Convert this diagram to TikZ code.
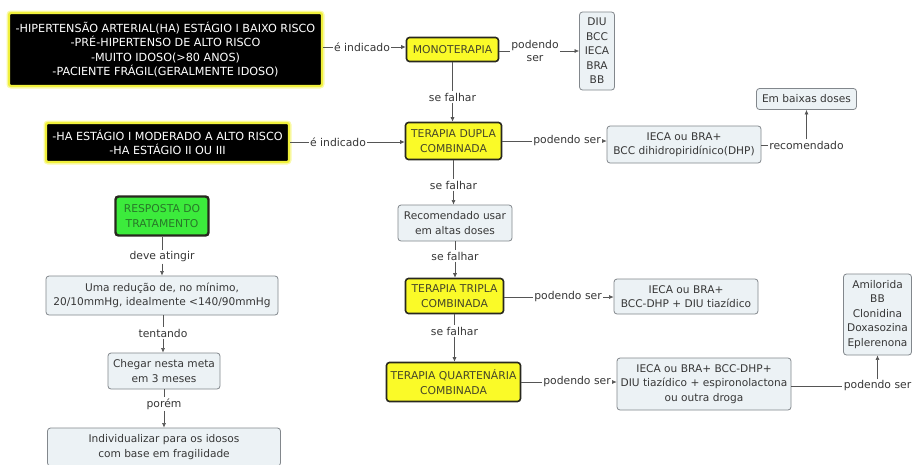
\documentclass[tikz,border=0pt]{standalone}
\usepackage{fontspec}
\setmainfont{DejaVu Sans}
\usetikzlibrary{arrows.meta}
\definecolor{glow}{RGB}{240,240,60}
\definecolor{glowsoft}{RGB}{250,250,170}
\definecolor{ylwfill}{RGB}{250,250,40}
\definecolor{ylwtext}{RGB}{70,70,40}
\definecolor{edgedark}{RGB}{40,40,30}
\definecolor{ltfill}{RGB}{236,242,245}
\definecolor{ltborder}{RGB}{130,135,140}
\definecolor{txt}{RGB}{55,55,55}
\definecolor{linec}{RGB}{85,85,85}
\definecolor{grnfill}{RGB}{60,235,60}
\definecolor{grntext}{RGB}{40,120,40}
\tikzset{
  boxfont/.style={font=\fontsize{10.6}{14.5}\selectfont},
  blk/.style={font=\fontsize{11.2}{14.5}\selectfont, fill=black, text=white, draw=glow, line width=2.2pt,
    rounded corners=2pt, preaction={draw=glowsoft, line width=5pt}, align=center, inner sep=1pt},
  ylw/.style={font=\fontsize{10.8}{14.5}\selectfont, fill=ylwfill, draw=edgedark, line width=1.6pt, text=ylwtext,
    rounded corners=3pt, align=center, inner sep=1pt},
  grn/.style={font=\fontsize{10.8}{14.5}\selectfont, fill=grnfill, draw=edgedark, line width=2.4pt, text=grntext,
    rounded corners=3pt, align=center, inner sep=1pt},
  lt/.style={boxfont, fill=ltfill, draw=ltborder, line width=0.8pt, text=txt,
    rounded corners=3pt, align=center, inner sep=1pt},
  lbl/.style={font=\fontsize{10.8}{13}\selectfont, text=txt, inner sep=1.2pt, align=center},
  con/.style={draw=linec, line width=0.6pt},
  arr/.style={con, -{Latex[length=4.5pt,width=4pt]}},
}
\begin{document}
\begin{tikzpicture}[x=1pt,y=-1pt]
\useasboundingbox (0,0) rectangle (913,464);
\fill[white] (0,0) rectangle (913,464);

% conditions
\node[blk, minimum width=313pt, minimum height=73pt] (cond1) at (165.5,49.5)
  {-HIPERTENSÃO ARTERIAL(HA) ESTÁGIO I BAIXO RISCO\\-PRÉ-HIPERTENSO DE ALTO RISCO\\-MUITO IDOSO(>80 ANOS)\\-PACIENTE FRÁGIL(GERALMENTE IDOSO)};
\node[blk, minimum width=243pt, minimum height=39pt] (cond2) at (167.5,142.5)
  {-HA ESTÁGIO I MODERADO A ALTO RISCO\\-HA ESTÁGIO II OU III};

% therapy chain
\node[ylw, minimum width=92pt, minimum height=24pt] (mono) at (452.5,49.5) {MONOTERAPIA};
\node[lt, minimum width=35pt, minimum height=78pt] (diu) at (597,51) {DIU\\BCC\\IECA\\BRA\\BB};
\node[ylw, minimum width=96pt, minimum height=37pt] (dupla) at (453.5,141) {TERAPIA DUPLA\\COMBINADA};
\node[lt, minimum width=154pt, minimum height=37pt] (ieca1) at (684,144.5) {IECA ou BRA+\\BCC dihidropiridínico(DHP)};
\node[lt, minimum width=100pt, minimum height=21pt] (baixas) at (806.5,99) {Em baixas doses};
\node[lt, minimum width=114pt, minimum height=36pt] (altas) at (455,223) {Recomendado usar\\em altas doses};
\node[ylw, minimum width=98pt, minimum height=35pt] (tripla) at (454.5,296) {TERAPIA TRIPLA\\COMBINADA};
\node[lt, minimum width=144pt, minimum height=35pt] (ieca2) at (686,296.5) {IECA ou BRA+\\BCC-DHP + DIU tiazídico};
\node[ylw, minimum width=134pt, minimum height=39pt] (quart) at (453.5,382) {TERAPIA QUARTENÁRIA\\COMBINADA};
\node[lt, minimum width=174pt, minimum height=52pt] (ieca3) at (704,384) {IECA ou BRA+ BCC-DHP+\\DIU tiazídico + espironolactona\\ou outra droga};
\node[lt, minimum width=68pt, minimum height=81pt] (amil) at (877.5,314.5) {Amilorida\\BB\\Clonidina\\Doxasozina\\Eplerenona};

% treatment response
\node[grn, minimum width=93pt, minimum height=39pt] (resp) at (162,216) {RESPOSTA DO\\TRATAMENTO};
\node[lt, minimum width=232pt, minimum height=39pt] (meta) at (162,295.5) {Uma redução de, no mínimo,\\20/10mmHg, idealmente <140/90mmHg};
\node[lt, minimum width=112pt, minimum height=36pt] (tres) at (164,371) {Chegar nesta meta\\em 3 meses};
\node[lt, minimum width=233pt, minimum height=38pt] (indiv) at (164,447) {Individualizar para os idosos\\com base em fragilidade};

% connector labels
\node[lbl] (l1) at (362,47) {é indicado};
\node[lbl] (l2) at (535,51) {podendo\\ser};
\node[lbl] (l3) at (452.5,97) {se falhar};
\node[lbl] (l4) at (338,142) {é indicado};
\node[lbl] (l5) at (567,141) {podendo ser};
\node[lbl] (l6) at (806.5,145) {recomendado};
\node[lbl] (l7) at (453.5,185) {se falhar};
\node[lbl] (l8) at (455,256) {se falhar};
\node[lbl] (l9) at (568,297) {podendo ser};
\node[lbl] (l10) at (454.5,331) {se falhar};
\node[lbl] (l11) at (577,382) {podendo ser};
\node[lbl] (l12) at (877.5,386) {podendo ser};
\node[lbl] (l13) at (162,257) {deve atingir};
\node[lbl] (l14) at (163,333) {tentando};
\node[lbl] (l15) at (164,404) {porém};

% horizontal connectors
\draw[con] (l1.west -| cond1.east) -- (l1.west);
\draw[arr] (l1.east) -- (l1.east -| mono.west);
\draw[con] (l2.west -| mono.east) -- (l2.west);
\draw[arr] (l2.east) -- (l2.east -| diu.west);
\draw[con] (l4.west -| cond2.east) -- (l4.west);
\draw[arr] (l4.east) -- (l4.east -| dupla.west);
\draw[con] (l5.west -| dupla.east) -- (l5.west);
\draw[arr] (l5.east) -- (l5.east -| ieca1.west);
\draw[con] (l6.west -| ieca1.east) -- (l6.west);
\draw[arr] (l6.north) -- (l6.north |- baixas.south);
\draw[con] (l9.west -| tripla.east) -- (l9.west);
\draw[arr] (l9.east) -- (l9.east -| ieca2.west);
\draw[con] (l11.west -| quart.east) -- (l11.west);
\draw[arr] (l11.east) -- (l11.east -| ieca3.west);
\draw[con] (l12.west -| ieca3.east) -- (l12.west);
\draw[arr] (l12.north) -- (l12.north |- amil.south);

% vertical connectors
\draw[con] (l3.north |- mono.south) -- (l3.north);
\draw[arr] (l3.south) -- (l3.south |- dupla.north);
\draw[con] (l7.north |- dupla.south) -- (l7.north);
\draw[arr] (l7.south) -- (l7.south |- altas.north);
\draw[con] (l8.north |- altas.south) -- (l8.north);
\draw[arr] (l8.south) -- (l8.south |- tripla.north);
\draw[con] (l10.north |- tripla.south) -- (l10.north);
\draw[arr] (l10.south) -- (l10.south |- quart.north);
\draw[con] (l13.north |- resp.south) -- (l13.north);
\draw[arr] (l13.south) -- (l13.south |- meta.north);
\draw[con] (l14.north |- meta.south) -- (l14.north);
\draw[arr] (l14.south) -- (l14.south |- tres.north);
\draw[con] (l15.north |- tres.south) -- (l15.north);
\draw[arr] (l15.south) -- (l15.south |- indiv.north);
\end{tikzpicture}
\end{document}
